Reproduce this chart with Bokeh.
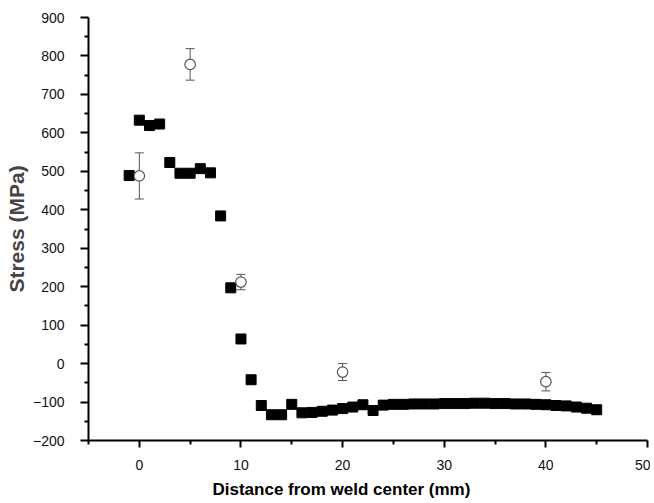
from bokeh.plotting import figure
from bokeh.models import ColumnDataSource, Whisker, FixedTicker, Range1d, Title
from bokeh.embed import file_html
from bokeh.resources import INLINE

# Measured stress profile (filled squares)
dist = [-1, 0, 1, 2, 3, 4, 5, 6, 7, 8, 9, 10, 11, 12, 13, 14, 15, 16, 17, 18,
        19, 20, 21, 22, 23, 24, 25, 26, 27, 28, 29, 30, 31, 32, 33, 34, 35, 36,
        37, 38, 39, 40, 41, 42, 43, 44, 45]
stress = [489, 633, 619, 623, 523, 495, 495, 507, 496, 384, 197, 64, -42, -109,
          -133, -133, -106, -128, -127, -124, -121, -117, -113, -107, -122, -108,
          -106, -106, -105, -105, -105, -104, -104, -104, -103, -103, -104, -104,
          -105, -105, -106, -107, -109, -110, -113, -116, -120]

# Reference measurements with error bars (open circles)
ref_dist = [0, 5, 10, 20, 40]
ref_stress = [488, 778, 212, -22, -47]
ref_err = [60, 41, 20, 22, 24]

x_ticks = [0, 10, 20, 30, 40, 50]
x_minor = [-5, 5, 15, 25, 35, 45]
y_ticks = list(range(-200, 901, 100))
y_minor = list(range(-150, 901, 100))

FONT = "Liberation Sans"

p = figure(width=650, height=503, output_backend="svg", toolbar_location=None,
           x_range=Range1d(-5, 50), y_range=Range1d(-200, 900),
           min_border_left=88, min_border_right=3, min_border_top=17,
           min_border_bottom=10)
p.outline_line_color = None
p.grid.visible = False
p.background_fill_color = "white"

for ax in (p.xaxis[0], p.yaxis[0]):
    ax.axis_line_width = 2
    ax.axis_line_color = "black"
    ax.major_tick_line_width = 2
    ax.minor_tick_line_width = 2
    ax.major_tick_in = 0
    ax.minor_tick_in = 0
    ax.minor_tick_out = 4
    ax.major_label_text_font = FONT
    ax.major_label_text_font_size = "14px"
    ax.major_label_text_color = "#111111"

p.xaxis[0].ticker = FixedTicker(ticks=x_ticks, minor_ticks=x_minor)
p.yaxis[0].ticker = FixedTicker(ticks=y_ticks, minor_ticks=y_minor)
p.xaxis[0].major_tick_out = 7
p.yaxis[0].major_tick_out = 8
p.xaxis[0].major_label_standoff = 12
p.yaxis[0].major_label_standoff = 16

p.yaxis[0].axis_label = "Stress (MPa)"
p.yaxis[0].axis_label_text_font = FONT
p.yaxis[0].axis_label_text_font_style = "bold"
p.yaxis[0].axis_label_text_font_size = "21px"
p.yaxis[0].axis_label_standoff = 2

xt = Title(text="Distance from weld center (mm)", align="left", offset=124,
           text_font=FONT, text_font_style="bold", text_font_size="17px",
           text_color="black")
p.add_layout(xt, "below")

src = ColumnDataSource(dict(x=dist, y=stress))
p.scatter("x", "y", source=src, marker="square", size=10,
          fill_color="black", line_color="black")

ref = ColumnDataSource(dict(x=ref_dist, y=ref_stress,
                            lo=[s - e for s, e in zip(ref_stress, ref_err)],
                            hi=[s + e for s, e in zip(ref_stress, ref_err)]))
w = Whisker(base="x", lower="lo", upper="hi", source=ref,
            line_color="#555555", line_width=1)
w.upper_head.size = 9
w.lower_head.size = 9
w.upper_head.line_color = "#555555"
w.lower_head.line_color = "#555555"
p.add_layout(w)
p.scatter("x", "y", source=ref, marker="circle", size=10.5,
          fill_color="white", line_color="#555555", line_width=1.2)

open("out.html", "w").write(file_html(p, INLINE))
